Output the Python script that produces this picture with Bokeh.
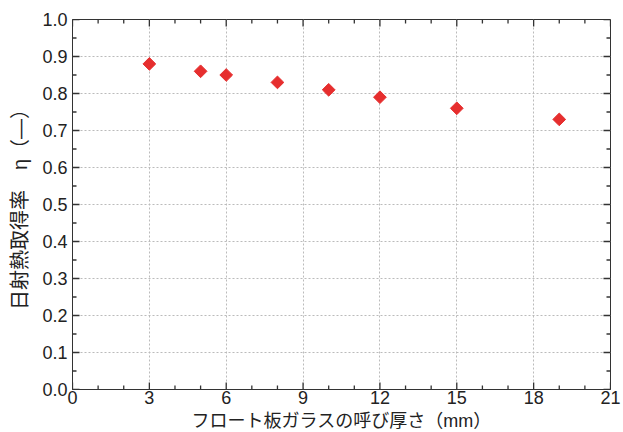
import math
from bokeh.plotting import figure
from bokeh.models import Range1d, ColumnDataSource, FixedTicker
from bokeh.embed import file_html
from bokeh.resources import INLINE

thickness = [3, 5, 6, 8, 10, 12, 15, 19]
eta = [0.88, 0.86, 0.85, 0.83, 0.81, 0.79, 0.76, 0.73]
x_ticks = [0, 3, 6, 9, 12, 15, 18, 21]
x_minor = [v for v in range(0, 22) if v % 3 != 0]
y_ticks = [round(i * 0.1, 1) for i in range(11)]
y_minor = [round(0.05 + i * 0.1, 2) for i in range(10)]
y_tick_labels = {v: f"{v:.1f}" for v in y_ticks}

JP = "Liberation Sans, Noto Sans CJK JP"
NUM = "Liberation Sans"
AX = "#333333"
TXT = "#222222"

X0, X1, Y0, Y1 = 0, 21, 0.0, 1.0
FW, FH = 538, 370

p = figure(frame_width=FW, frame_height=FH, output_backend="svg", toolbar_location=None,
           x_range=Range1d(X0, X1), y_range=Range1d(Y0, Y1),
           min_border_left=72, min_border_right=13, min_border_top=19, min_border_bottom=40)
p.outline_line_color = AX
p.outline_line_width = 1

xa = p.xaxis[0]
xa.ticker = FixedTicker(ticks=x_ticks)
ya = p.yaxis[0]
ya.ticker = FixedTicker(ticks=y_ticks)
ya.major_label_overrides = y_tick_labels
for ax in (xa, ya):
    ax.major_tick_in = 0
    ax.major_tick_out = 0
    ax.minor_tick_in = 0
    ax.minor_tick_out = 0
    ax.axis_line_color = AX
    ax.major_label_text_font = NUM
    ax.major_label_text_font_size = "18px"
    ax.major_label_text_color = TXT
    ax.axis_label_text_font = JP
    ax.axis_label_text_font_style = "normal"
    ax.axis_label_text_color = TXT

xa.major_label_standoff = 1
xa.axis_label = "フロート板ガラスの呼び厚さ（mm）"
xa.axis_label_text_font_size = "18px"
xa.axis_label_standoff = 4
ya.major_label_standoff = 5
ya.axis_label = "日射熱取得率　η（—）"
ya.axis_label_text_font_size = "20px"
ya.axis_label_standoff = 8

p.xgrid.ticker = FixedTicker(ticks=x_ticks)
p.ygrid.ticker = FixedTicker(ticks=y_ticks)
for g in (p.xgrid[0], p.ygrid[0]):
    g.grid_line_color = "#bbbbbb"
    g.grid_line_dash = "2 2"
    g.grid_line_width = 1

# inward tick marks on all four sides (from tick arrays)
dy_major = 7 / FH * (Y1 - Y0)
dy_minor = 4 / FH * (Y1 - Y0)
dx_major = 7 / FW * (X1 - X0)
dx_minor = 4 / FW * (X1 - X0)

def vticks(xs, d):
    x0 = xs + xs
    y0 = [Y0] * len(xs) + [Y1] * len(xs)
    y1 = [Y0 + d] * len(xs) + [Y1 - d] * len(xs)
    return x0, y0, y1

def hticks(ys, d):
    y0 = ys + ys
    x0 = [X0] * len(ys) + [X1] * len(ys)
    x1 = [X0 + d] * len(ys) + [X1 - d] * len(ys)
    return y0, x0, x1

TICK = "#333333"
for xs, d in ((x_ticks, dy_major), (x_minor, dy_minor)):
    a, b, c = vticks(xs, d)
    p.segment(x0=a, y0=b, x1=a, y1=c, line_color=TICK, line_width=1.3)
for ys, d in ((y_ticks, dx_major), (y_minor, dx_minor)):
    a, b, c = hticks(ys, d)
    p.segment(x0=b, y0=a, x1=c, y1=a, line_color=TICK, line_width=1.3)

src = ColumnDataSource(dict(x=thickness, y=eta))
p.scatter("x", "y", source=src, marker="square", size=9, angle=math.pi / 4,
          fill_color="#e62e2e", line_color="#e62e2e")

open("out.html", "w").write(file_html(p, INLINE))
